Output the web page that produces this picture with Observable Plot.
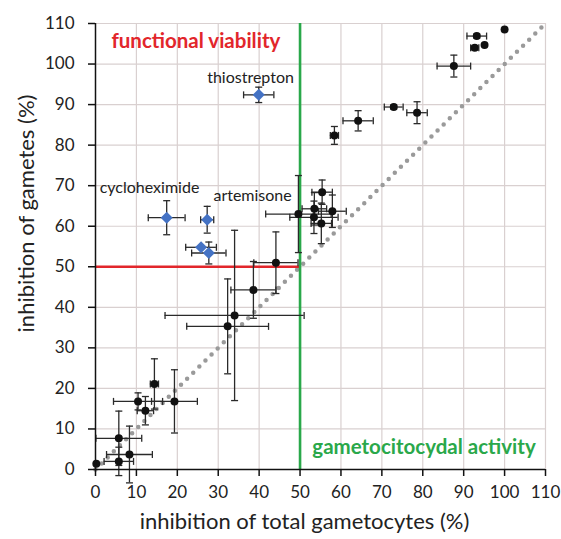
<!DOCTYPE html>
<html><head><meta charset="utf-8">
<script src="https://cdn.jsdelivr.net/npm/d3@7"></script>
<script src="https://cdn.jsdelivr.net/npm/@observablehq/plot@0.6"></script>
<style>body{margin:0;background:#fff;} svg{display:block}</style>
</head><body><div id="chart"></div>
<script>
// black compounds
const blackX    = [0.2, 5.7, 8.3, 5.7, 10.4, 12.2, 14.4, 19.3, 32.3, 34.0, 38.6, 44.1, 49.6, 53.5, 55.4, 57.9, 53.4, 55.2, 58.4, 64.2, 72.9, 78.6, 87.6, 92.7, 93.2, 95.1, 100.0];
const blackY    = [1.4, 2.0, 3.7, 7.7, 16.8, 14.5, 21.1, 16.8, 35.3, 38.0, 44.3, 51.0, 63.0, 64.3, 68.4, 63.7, 62.2, 60.7, 82.4, 86.0, 89.4, 88.0, 99.5, 104.0, 106.9, 104.7, 108.5];
const blackXErr = [0, 3.6, 5.6, 5.6, 6.0, 2.0, 1.0, 5.6, 10.0, 17.0, 5.5, 5.4, 8.0, 3.0, 2.5, 3.4, 5.9, 2.5, 1.0, 3.7, 2.3, 2.5, 4.1, 1.0, 2.4, 0, 0];
const blackYErr = [0, 3.5, 7.0, 6.7, 2.1, 3.5, 6.2, 7.8, 11.7, 21.0, 7.0, 7.6, 9.5, 4.0, 3.0, 4.0, 4.0, 5.0, 2.2, 2.5, 0.5, 2.7, 2.7, 0.5, 0.5, 0, 0];
// blue compounds
const blueX    = [39.9, 17.4, 27.3, 25.8, 27.7];
const blueY    = [92.4, 62.1, 61.6, 54.8, 53.4];
const blueXErr = [3.7, 4.5, 1.6, 3.75, 4.2];
const blueYErr = [1.9, 4.2, 3.3, 0, 2.7];
// annotations
const labelText = ["thiostrepton", "cycloheximide", "artemisone"];
const labelX    = [37.9, 13.2, 38.4];
const labelY    = [96.7, 69.5, 67.6];
const ticks = [0, 10, 20, 30, 40, 50, 60, 70, 80, 90, 100, 110];
const threshold = 50;
const maxVal = 110;

const black = blackX.map((x, i) => ({x, y: blackY[i], ex: blackXErr[i], ey: blackYErr[i]}));
const blue = blueX.map((x, i) => ({x, y: blueY[i], ex: blueXErr[i], ey: blueYErr[i]}));
const all = black.concat(blue);
const labels = labelText.map((t, i) => ({t, x: labelX[i], y: labelY[i]}));

const capH = {draw(ctx, size) { const r = Math.sqrt(size / Math.PI); ctx.moveTo(-r, 0); ctx.lineTo(r, 0); }};
const capV = {draw(ctx, size) { const r = Math.sqrt(size / Math.PI); ctx.moveTo(0, -r); ctx.lineTo(0, r); }};
const diamond = {draw(ctx, size) { const r = Math.sqrt(size / Math.PI); ctx.moveTo(0, -r); ctx.lineTo(r, 0); ctx.lineTo(0, r); ctx.lineTo(-r, 0); ctx.closePath(); }};

const RED = "#e2262b", GREEN = "#2aa84a", ERR = "#2a2a2a";
const withX = all.filter(d => d.ex > 0), withY = all.filter(d => d.ey > 0);

const chart = Plot.plot({
  width: 561, height: 539,
  marginLeft: 95, marginRight: 16, marginTop: 23, marginBottom: 70,
  style: {fontFamily: "Lato, sans-serif", background: "#fff", color: "#222"},
  x: {domain: [0, maxVal]},
  y: {domain: [0, maxVal]},
  marks: [
    Plot.gridX(ticks.slice(1), {stroke: "#d9d0d0", strokeOpacity: 1, strokeWidth: 1.2}),
    Plot.gridY(ticks.slice(1), {stroke: "#d9d0d0", strokeOpacity: 1, strokeWidth: 1.2}),
    Plot.line([[0, 0], [maxVal, maxVal]], {x: d => d[0], y: d => d[1], stroke: "#9a9a9a", strokeWidth: 4.5, strokeDasharray: "0,8.6", strokeLinecap: "round"}),
    Plot.ruleY([threshold], {x1: 0, x2: threshold, stroke: RED, strokeWidth: 2.6}),
    Plot.ruleX([threshold], {y1: 0, y2: maxVal, stroke: GREEN, strokeWidth: 2.6}),
    Plot.ruleY(withX, {y: "y", x1: d => d.x - d.ex, x2: d => d.x + d.ex, stroke: ERR, strokeWidth: 1.3}),
    Plot.ruleX(withY, {x: "x", y1: d => d.y - d.ey, y2: d => d.y + d.ey, stroke: ERR, strokeWidth: 1.3}),
    Plot.dot(withX, {x: d => d.x - d.ex, y: "y", symbol: capV, r: 3.5, stroke: ERR, strokeWidth: 1.3}),
    Plot.dot(withX, {x: d => d.x + d.ex, y: "y", symbol: capV, r: 3.5, stroke: ERR, strokeWidth: 1.3}),
    Plot.dot(withY, {x: "x", y: d => d.y - d.ey, symbol: capH, r: 3.5, stroke: ERR, strokeWidth: 1.3}),
    Plot.dot(withY, {x: "x", y: d => d.y + d.ey, symbol: capH, r: 3.5, stroke: ERR, strokeWidth: 1.3}),
    Plot.dot(black, {x: "x", y: "y", r: 4, fill: "#111"}),
    Plot.dot(blue, {x: "x", y: "y", symbol: diamond, r: 6, fill: "#4472c4"}),
    Plot.ruleX([0], {stroke: "#111", strokeWidth: 1.5}),
    Plot.ruleY([0], {stroke: "#111", strokeWidth: 1.5}),
    Plot.axisX({ticks, tickSize: 7, tickPadding: 9, fontSize: 17, label: null, stroke: "#111", strokeWidth: 1.5}),
    Plot.axisY({ticks, tickSize: 7, tickPadding: 14, fontSize: 17, label: null, stroke: "#111", strokeWidth: 1.5}),
    Plot.text(labels, {x: "x", y: "y", text: "t", fontSize: 16, fill: "#222"}),
    Plot.text(["functional viability"], {x: 3.9, y: 105.5, text: d => d, textAnchor: "start", fontSize: 20.5, fontWeight: "bold", fill: RED}),
    Plot.text(["gametocitocydal activity"], {x: 53, y: 5.4, text: d => d, textAnchor: "start", fontSize: 20.5, fontWeight: "bold", fill: GREEN}),
    Plot.text(["inhibition of total gametocytes (%)"], {frameAnchor: "bottom", text: d => d, textAnchor: "middle", lineAnchor: "middle", dx: -16, dy: 52, fontSize: 22, fill: "#222"}),
    Plot.text(["inhibition of gametes (%)"], {frameAnchor: "left", text: d => d, textAnchor: "middle", lineAnchor: "middle", rotate: -90, dx: -69, dy: -33, fontSize: 22, fill: "#222"})
  ]
});
document.getElementById("chart").appendChild(chart);
</script>
</body></html>
